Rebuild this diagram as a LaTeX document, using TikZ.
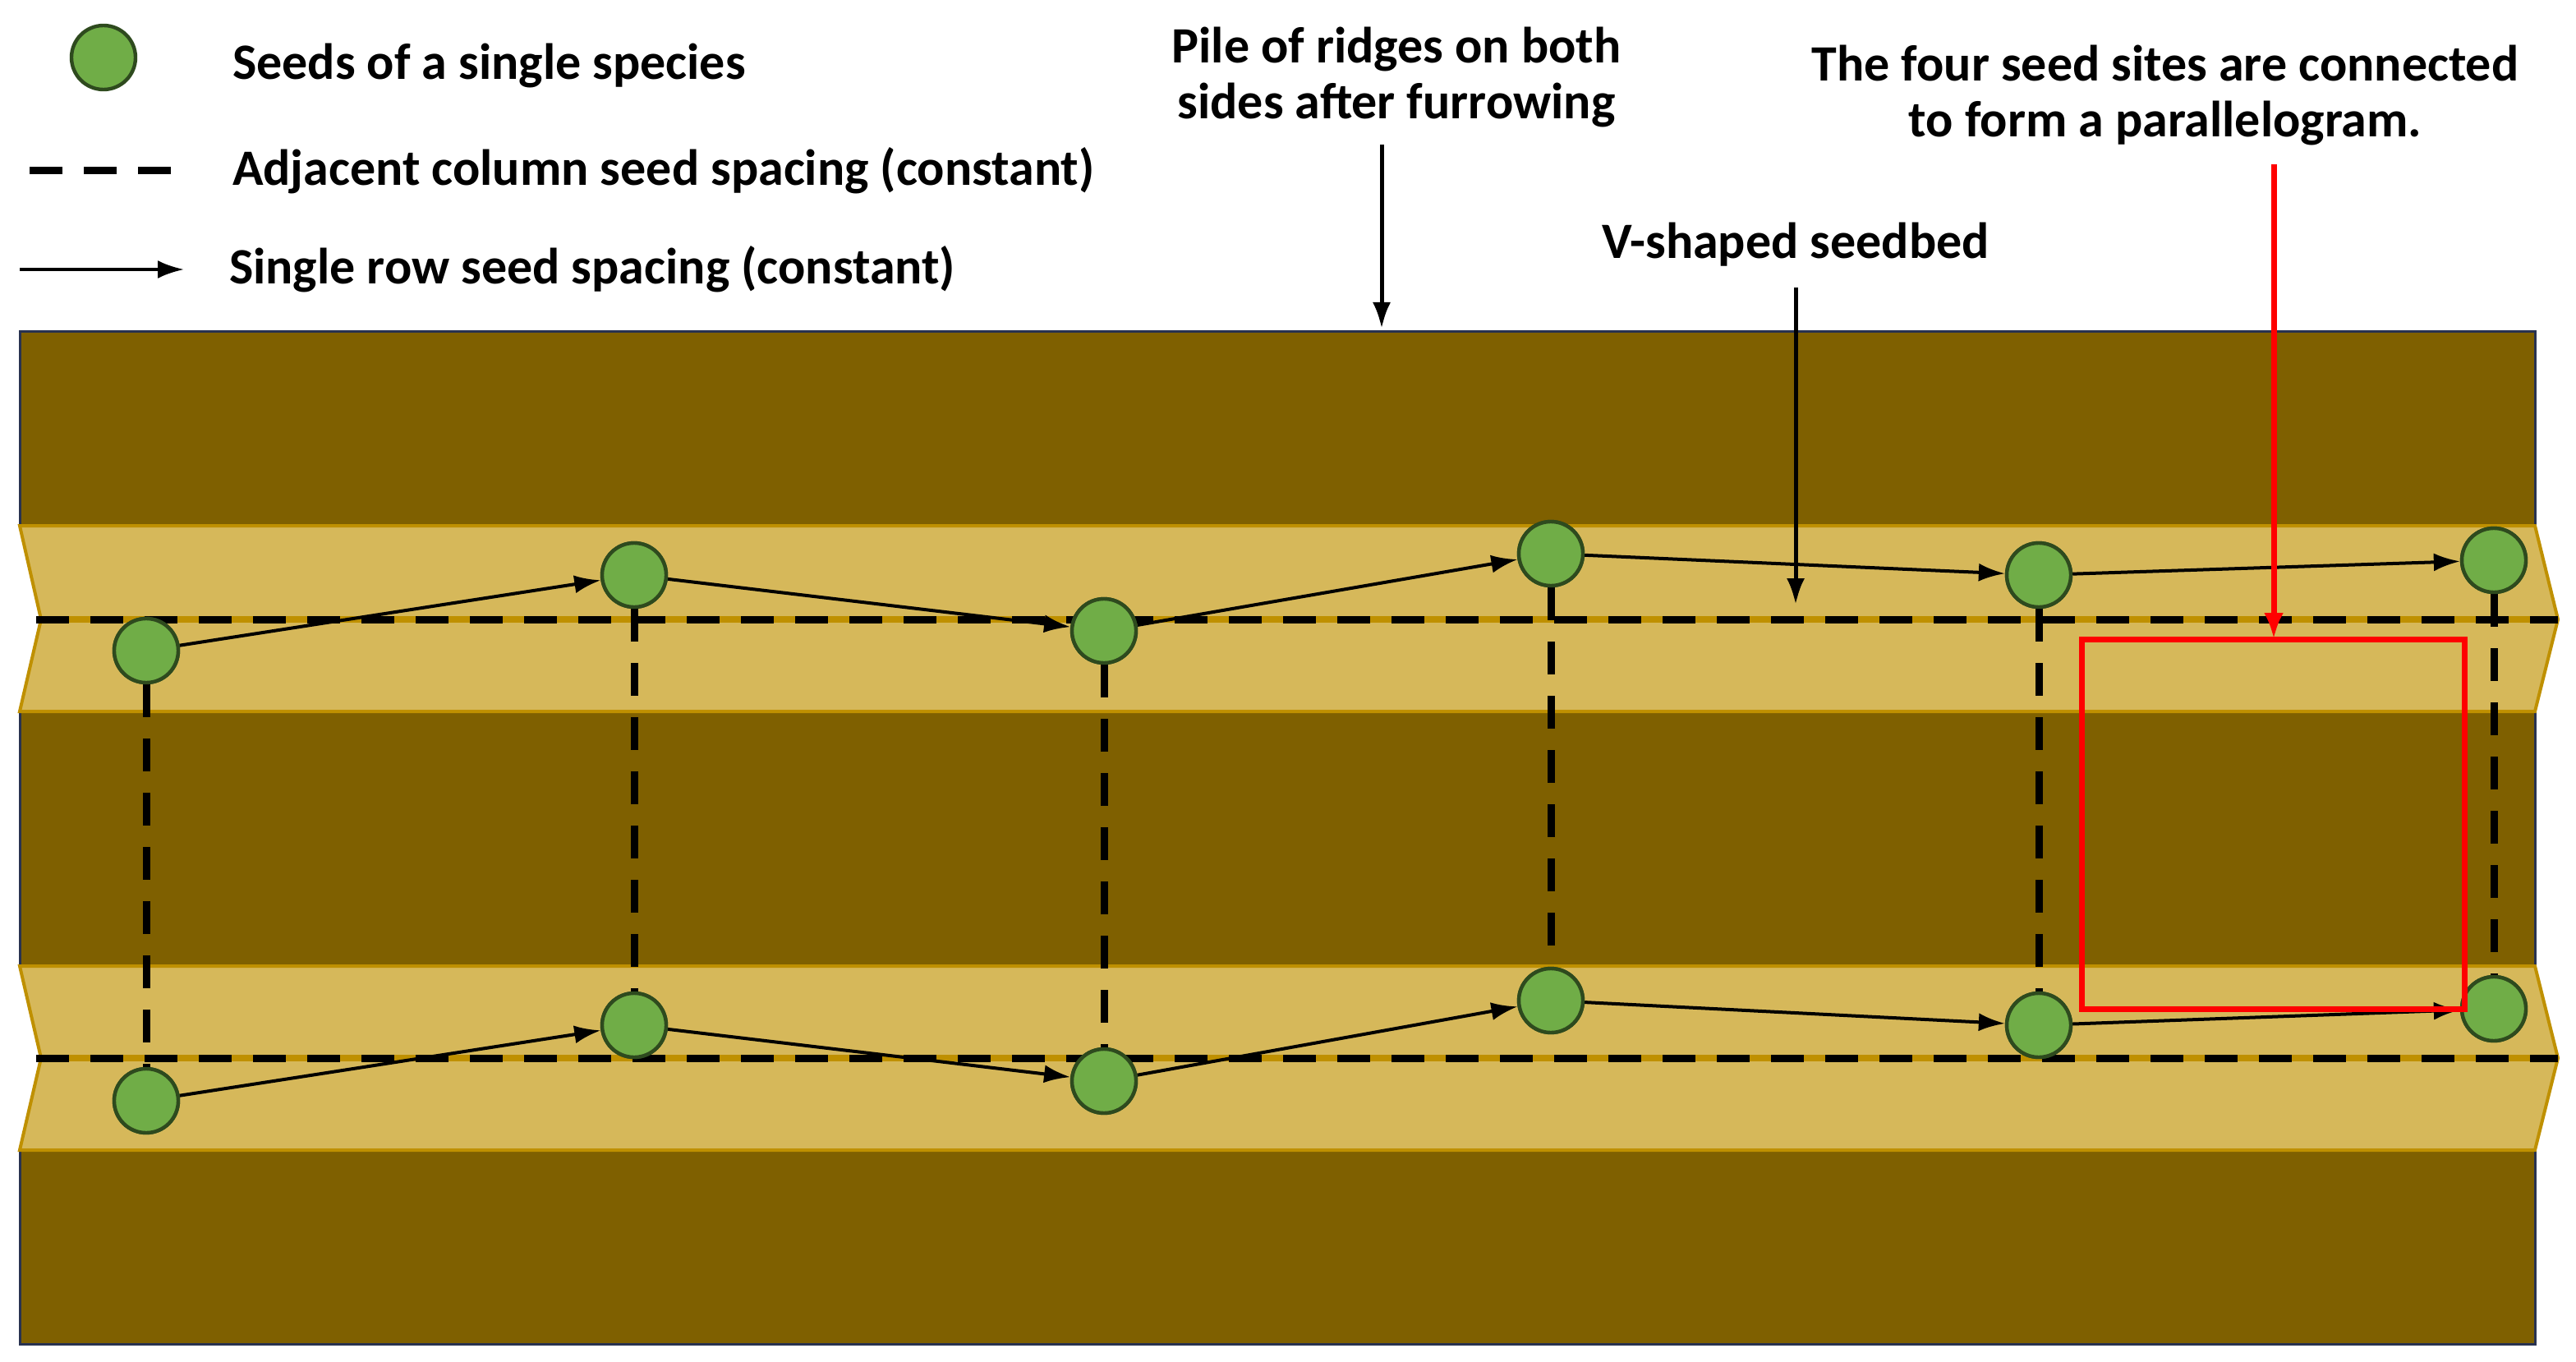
\documentclass[tikz,border=0pt]{standalone}
\usepackage{fontspec}
\setmainfont{Carlito}
\usetikzlibrary{arrows.meta}
\definecolor{dark}{HTML}{7F6000}
\definecolor{light}{HTML}{D6B85A}
\definecolor{edge}{HTML}{BF9000}
\definecolor{seed}{HTML}{70AD47}
\definecolor{seedb}{HTML}{2E4A1E}
\tikzset{
 soil/.style={fill=dark,draw={rgb,255:red,40;green,50;blue,80},line width=1.5pt},
 bed/.style={fill=light,draw=edge,line width=2pt},
 sd/.style={circle,fill=seed,draw=seedb,line width=2.2pt,minimum size=39pt,inner sep=0},
 col/.style={line width=4.5pt,dash pattern=on 20pt off 13pt},
 rowa/.style={line width=2pt,-{Latex[length=16pt,width=11pt]}},
 lab/.style={font=\bfseries\fontsize{31}{34}\selectfont,align=center},
 ll/.style={font=\bfseries\fontsize{31}{36}\selectfont,anchor=west}
}
\begin{document}
\begin{tikzpicture}[x=1pt,y=-1pt]
\useasboundingbox (0,0) rectangle (1568,829);
% soil
\draw[soil] (12,202) rectangle (1543,320);
\draw[soil] (12,433) rectangle (1543,588);
\draw[soil] (12,700) rectangle (1543,818);
% beds
\foreach \t/\m/\b in {320/377/433,588/644/700}{
 \draw[bed] (12,\t) -- (1543,\t) -- (1557,\m) -- (1543,\b) -- (12,\b) -- (25,\m) -- cycle;
 \draw[edge,line width=4pt] (22,\m) -- (1557,\m);
 \draw[col] (22,\m) -- (1557,\m);
}
% seeds
\foreach \n/\x/\y in {a1/89/396,a2/386/350,a3/672/384,a4/944/337,a5/1241/350,a6/1518/341,
 b1/89/670,b2/386/624,b3/672/658,b4/944/609,b5/1241/624,b6/1518/614}{
 \node[sd] (\n) at (\x,\y) {};
}
\foreach \i in {1,...,6}{ \draw[col] (a\i.south) -- (b\i.north); }
\foreach \r in {a,b}{
 \draw[rowa] (\r1) -- (\r2); \draw[rowa] (\r2) -- (\r3); \draw[rowa] (\r3) -- (\r4);
 \draw[rowa] (\r4) -- (\r5); \draw[rowa] (\r5) -- (\r6);
}
\foreach \n/\x/\y in {a1/89/396,a2/386/350,a3/672/384,a4/944/337,a5/1241/350,a6/1518/341,
 b1/89/670,b2/386/624,b3/672/658,b4/944/609,b5/1241/624,b6/1518/614}{
 \node[sd] at (\x,\y) {};
}
% red parallelogram
\draw[red,line width=3.5pt] (1267,389) rectangle (1500,614);
% legend
\node[sd] (lg) at (63,35) {};
\node[ll] (l1) at (138,40) {Seeds of a single species};
\coordinate (d1) at (18,104); \coordinate (d2) at (108,104);
\draw[col] (d1) -- (d2);
\node[ll] (l2) at (138,104) {Adjacent column seed spacing (constant)};
\coordinate (e1) at (12,164); \coordinate (e2) at (112,164);
\draw[rowa] (e1) -- (e2);
\node[ll] (l3) at (136,164) {Single row seed spacing (constant)};
% labels
\node[lab] (p) at (850,47) {Pile of ridges on both\\sides after furrowing};
\coordinate (pe) at (841,200);
\draw[line width=2.5pt,-{Latex[length=16pt,width=11pt]}] (841,88) -- (pe);
\node[lab] (v) at (1093,149) {V-shaped seedbed};
\coordinate (ve) at (1093,368);
\draw[line width=2.5pt,-{Latex[length=16pt,width=11pt]}] (1093,175) -- (ve);
\node[lab] (f) at (1318,58) {The four seed sites are connected\\to form a parallelogram.};
\coordinate (fe) at (1384,389);
\draw[red,line width=3.5pt,-{Latex[length=16pt,width=12pt]}] (1384,100) -- (fe);
\end{tikzpicture}
\end{document}
